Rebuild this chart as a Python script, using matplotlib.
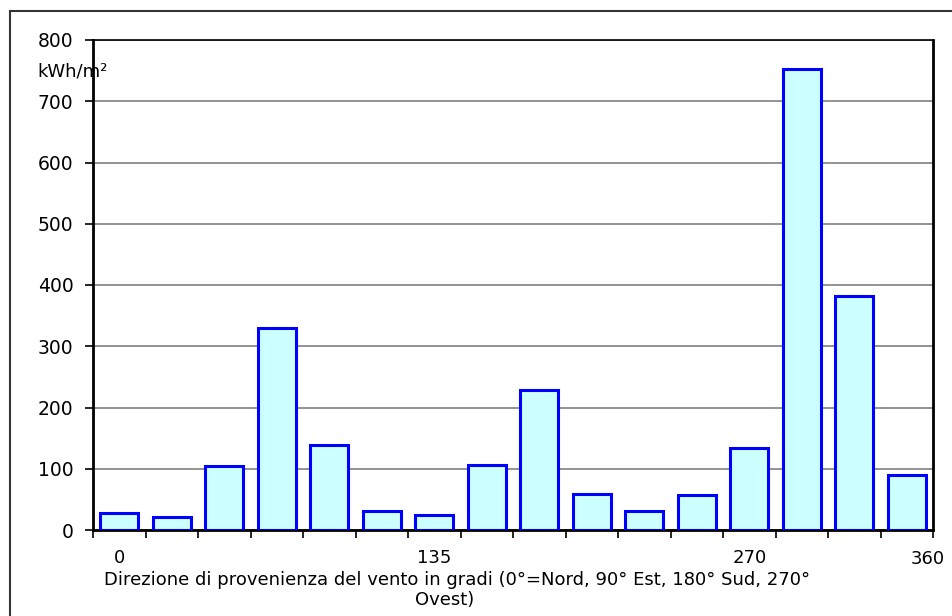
import numpy as np
import matplotlib
matplotlib.use('Agg')
import matplotlib.pyplot as plt
from matplotlib.patches import Rectangle

# energia del vento per settore di direzione (16 settori da 22.5°)
sectors = np.arange(16)
energy = [28, 21, 105, 330, 138, 31, 24, 106, 228, 58, 31, 57, 134, 753, 382, 90]
tick_pos = [0, 6, 12]
tick_labels = ['0', '135', '270']
y_ticks = [0, 100, 200, 300, 400, 500, 600, 700, 800]

W, H = 952, 616
DPI = 100
plt.rcParams['font.family'] = ['DejaVu Sans']

fig = plt.figure(figsize=(W / DPI, H / DPI), dpi=DPI)
ax = fig.add_axes([93 / W, 1 - 530 / H, 840 / W, 490 / H])

ax.bar(sectors, energy, width=0.72, color='#CCFFFF', edgecolor='#0000FF',
       linewidth=2.2, zorder=3)

ax.set_xlim(-0.5, 15.5)
ax.set_ylim(0, 800)
ax.set_yticks(y_ticks)
ax.set_yticklabels([str(v) for v in y_ticks], fontsize=13.5)
ax.yaxis.grid(True, color='#808080', linewidth=1.2, zorder=0)
ax.tick_params(axis='y', direction='out', length=6, width=1.2, pad=8)

ax.set_xticks(tick_pos)
ax.set_xticklabels(tick_labels, fontsize=13)
ax.set_xticks(np.arange(-0.5, 16, 1), minor=True)
ax.tick_params(axis='x', which='major', length=0, pad=14)
ax.tick_params(axis='x', which='minor', direction='out', length=6, width=1.2)

for s in ['left', 'bottom', 'right']:
    ax.spines[s].set_linewidth(2)
    ax.spines[s].set_color('black')
ax.spines['top'].set_linewidth(1.2)
ax.spines['top'].set_color('black')

# etichetta 360 spostata dentro la cornice
ax.text(15.4, -0.04, '360', transform=ax.get_xaxis_transform(),
        ha='center', va='top', fontsize=13)

fig.text(73 / W, 1 - 72 / H, 'kWh/m²', ha='center', va='center', fontsize=13)

fig.text(457 / W, 1 - 580 / H,
         'Direzione di provenienza del vento in gradi (0°=Nord, 90° Est, 180° Sud, 270°',
         ha='center', va='center', fontsize=13)
fig.text(445 / W, 1 - 600 / H, 'Ovest)', ha='center', va='center', fontsize=13)

# cornice esterna del grafico
fig.patches.append(Rectangle((10 / W, -0.1), 1.1, 1 - 11 / H + 0.1,
                             transform=fig.transFigure, fill=False,
                             edgecolor='#333333', linewidth=1.5))

plt.savefig('out.png', dpi=DPI)
plt.close()
